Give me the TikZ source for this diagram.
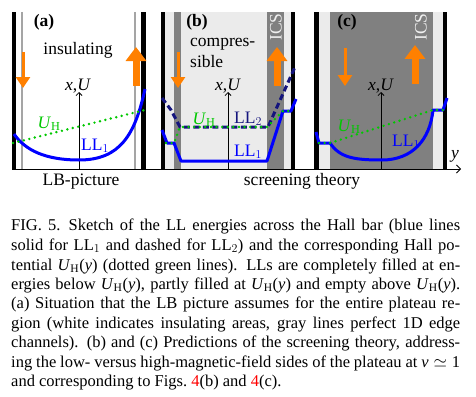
\documentclass[tikz,border=0pt]{standalone}
\usepackage{fontspec}
\setmainfont{Liberation Serif}
\usetikzlibrary{arrows.meta}
\definecolor{llblue}{RGB}{0,0,255}
\definecolor{lldark}{RGB}{20,20,125}
\definecolor{hallgreen}{RGB}{0,200,0}
\definecolor{flow}{RGB}{255,128,0}
\definecolor{bggray}{RGB}{235,235,235}
\definecolor{csgray}{RGB}{128,128,128}
\definecolor{edgegray}{RGB}{165,165,165}
\newcommand{\hallU}{\textit{U}$_\mathrm{H}$}
\begin{document}
\begin{tikzpicture}
 		[x=1pt,y=-1pt,
 		lbl/.style={font=\fontsize{17.5}{20}\selectfont,inner sep=0pt},
 		captxt/.style={font=\fontsize{16.5}{19.5}\selectfont,anchor=base west,inner sep=0pt},
 		wall/.style={fill=black},
 		llone/.style={llblue,line width=3pt,line join=round},
 		lltwo/.style={lldark,line width=3pt,dash pattern=on 6pt off 3.5pt},
 		hall/.style={hallgreen,line width=2.7pt,line cap=round,dash pattern=on 0pt off 5.6pt},
 		flowdown/.style={flow,line width=3pt,-{Triangle[width=14pt,length=11pt]}},
 		flowup/.style={flow,line width=7pt,-{Triangle[width=20pt,length=14pt]}},
 		axisline/.style={line width=0.8pt,-{Straight Barb[length=3pt,width=6pt]}}]
 	\useasboundingbox (0,0) rectangle (476,396);
 	% (a) LB picture
 	\fill[wall] (12,12) rectangle (16,169);
 	\fill[wall] (141,12) rectangle (146,169);
 	\draw[edgegray,line width=1.5pt] (22,12) -- (22,169);
 	\draw[edgegray,line width=1.5pt] (135,12) -- (135,169);
 	% (b) and (c) screening theory
 	\fill[bggray] (165,12) rectangle (291,169);
 	\fill[csgray] (174,12) rectangle (181,169);
 	\fill[csgray] (267,12) rectangle (284,169);
 	\fill[wall] (161,12) rectangle (165,169);
 	\fill[wall] (291,12) rectangle (295,169);
 	\fill[bggray] (319,12) rectangle (443,169);
 	\fill[csgray] (330,12) rectangle (433,169);
 	\fill[wall] (314,12) rectangle (319,169);
 	\fill[wall] (443,12) rectangle (447,169);
 	% axes
 	\coordinate (o) at (12,169);
 	\coordinate (yend) at (461,169);
 	\coordinate (a0) at (79,169);
 	\coordinate (a1) at (79,92);
 	\coordinate (b0) at (228,169);
 	\coordinate (b1) at (228,92);
 	\coordinate (c0) at (381,169);
 	\coordinate (c1) at (381,92);
 	\draw[axisline,-{Straight Barb[length=4pt,width=8pt]}] (o) -- (yend);
 	\draw[axisline] (a0) -- (a1);
 	\draw[axisline] (b0) -- (b1);
 	\draw[axisline] (c0) -- (c1);
 	\node[lbl,anchor=base] (xa) at (78,90) {\textit{x},\textit{U}};
 	\node[lbl,anchor=base] (xb) at (228,90) {\textit{x},\textit{U}};
 	\node[lbl,anchor=base] (xc) at (381,90) {\textit{x},\textit{U}};
 	\node[lbl,anchor=base] (ylab) at (455,158) {\textit{y}};
 	% energies
 	\draw[llone] (14,134) .. controls (25,150) and (45,160) .. (79,160)
 		.. controls (120,160) and (135,135) .. (145,89);
 	\draw[hall] (13,143) -- (145,110);
 	\draw[lltwo] (162,98) -- (171,110) -- (180,127) -- (268,127) -- (295,67);
 	\draw[llone] (162,130) -- (167,143) -- (174,143) -- (181,161) -- (267,161)
 		-- (283,111) -- (291,111) -- (296,99);
 	\draw[hall] (166,143) -- (174,143) -- (180,127) -- (267,127) -- (283,111) -- (291,111);
 	\draw[llone] (316,132) -- (319,143) -- (330,143) .. controls (340,158) and (355,160) .. (382,160)
 		.. controls (412,160) and (430,140) .. (433,110) -- (443,110) -- (447,98);
 	\draw[hall] (319,143) -- (330,143) -- (433,110) -- (443,110);
 	% currents
 	\draw[flowdown] (23,52) -- (23,88);
 	\draw[flowup] (136,86) -- (136,47);
 	\draw[flowdown] (178,52) -- (178,88);
 	\draw[flowup] (277,86) -- (277,47);
 	\draw[flowdown] (345,48) -- (345,86);
 	\draw[flowup] (415,84) -- (415,45);
 	% labels
 	\node[lbl,anchor=base] (la) at (44,27) {\textbf{(a)}};
 	\node[lbl,anchor=base] (lb) at (197,27) {\textbf{(b)}};
 	\node[lbl,anchor=base] (lc) at (347,27) {\textbf{(c)}};
 	\node[lbl,anchor=base] (ins) at (78,55) {insulating};
 	\node[lbl,anchor=base west] (comp1) at (190,47) {compres-};
 	\node[lbl,anchor=base west] (comp2) at (190,67) {sible};
 	\node[lbl,text=white!94!black,rotate=90] (icsb) at (276,27) {ICS};
 	\node[lbl,text=white!94!black,rotate=90] (icsc) at (421,27) {ICS};
 	\node[lbl,anchor=base,text=hallgreen] (uha) at (49,128) {\hallU};
 	\node[lbl,anchor=base,text=llblue] (lla) at (95,150) {LL$_1$};
 	\node[lbl,anchor=base,text=hallgreen] (uhb) at (204,124) {\hallU};
 	\node[lbl,anchor=base,text=lldark] (llb2) at (248,123) {LL$_2$};
 	\node[lbl,anchor=base,text=llblue] (llb1) at (248,156) {LL$_1$};
 	\node[lbl,anchor=base,text=hallgreen] (uhc) at (349,131) {\hallU};
 	\node[lbl,anchor=base,text=llblue] (llc) at (406,146) {LL$_1$};
 	\node[lbl,anchor=base] (lbpic) at (81,185) {LB-picture};
 	\node[lbl,anchor=base] (scr) at (302,185) {screening theory};
 	% caption
 	\node[captxt] (cap1) at (11,230) {\makebox[449pt][s]{FIG.~5.\hspace{0.5em}Sketch of the LL energies across the Hall bar (blue lines}};
 	\node[captxt] (cap2) at (11,250) {\makebox[449pt][s]{solid for LL$_1$ and dashed for LL$_2$) and the corresponding Hall po-}};
 	\node[captxt] (cap3) at (11,270) {\makebox[449pt][s]{tential \hallU(\textit{y}) (dotted green lines). LLs are completely filled at en-}};
 	\node[captxt] (cap4) at (11,289) {\makebox[449pt][s]{ergies below \hallU(\textit{y}), partly filled at \hallU(\textit{y}) and empty above \hallU(\textit{y}).}};
 	\node[captxt] (cap5) at (11,308) {\makebox[449pt][s]{(a) Situation that the LB picture assumes for the entire plateau re-}};
 	\node[captxt] (cap6) at (11,328) {\makebox[449pt][s]{gion (white indicates insulating areas, gray lines perfect 1D edge}};
 	\node[captxt] (cap7) at (11,347) {\makebox[449pt][s]{channels). (b) and (c) Predictions of the screening theory, address-}};
 	\node[captxt] (cap8) at (11,367) {\makebox[449pt][s]{ing the low- versus high-magnetic-field sides of the plateau at \textit{ν}\hspace{0.3em}$\simeq$\hspace{0.3em}1}};
 	\node[captxt] (cap9) at (11,386) {and corresponding to Figs.~\textcolor{red}{4}(b) and \textcolor{red}{4}(c).};
 	\end{tikzpicture}
\end{document}
